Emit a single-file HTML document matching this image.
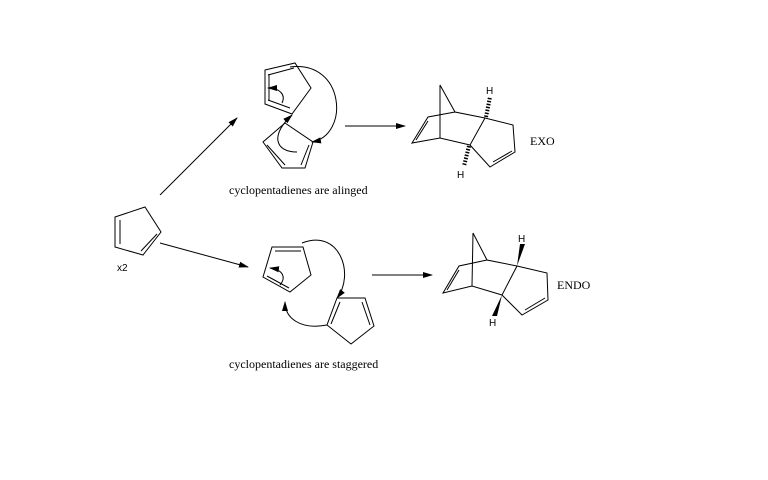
<!DOCTYPE html>
<html><head><style>body{margin:0;background:#fff}svg{display:block}text{font-family:"Liberation Serif",serif;font-size:12px}.s{font-family:"Liberation Sans",sans-serif;font-size:10px}</style></head><body>
<svg width="768" height="480" viewBox="0 0 768 480" xmlns="http://www.w3.org/2000/svg">
<defs><marker id="a" markerWidth="10" markerHeight="8" refX="9" refY="4" orient="auto" markerUnits="userSpaceOnUse"><path d="M0,1 L10,4 L0,7 Z" fill="#000"/></marker></defs>
<g stroke="#000" stroke-width="1" fill="none">
<!-- left cp -->
<path d="M115,217 L145,207 L161,232 L143,255 L115,247 Z"/>
<line x1="120" y1="220" x2="120" y2="244"/><line x1="157" y1="234" x2="141" y2="251"/>
<line x1="160" y1="195" x2="237" y2="118" marker-end="url(#a)"/>
<line x1="160" y1="243" x2="248" y2="267" marker-end="url(#a)"/>
<!-- top complex -->
<path d="M265,70 L295,63 L311,88 L292,114 L265,104 Z"/>
<line x1="268" y1="75" x2="294" y2="68"/><line x1="269" y1="74" x2="269" y2="101"/><line x1="268" y1="100" x2="290" y2="108"/>
<path d="M285,123 L313,142 L305,168 L282,168 L263,142 Z"/>
<line x1="267" y1="145" x2="285" y2="165"/><line x1="309" y1="145" x2="301" y2="165"/>
<path d="M290,67 C345,60 350,135 312,142" marker-end="url(#a)"/>
<path d="M282,103 C286,95 280,88 268,88" marker-end="url(#a)"/>
<path d="M297,152 C275,152 270,135 292,115" marker-end="url(#a)"/>
<line x1="345" y1="126" x2="405" y2="126" marker-end="url(#a)"/>
<!-- EXO -->
<path d="M440,85 L455,112 L485,118 L513,125 L515,152 L490,167 L470,145 L485,118 M470,145 L440,138 L412,143 L428,117 L455,112 M440,85 L440,138"/>
<line x1="493" y1="162" x2="512" y2="151"/><line x1="416" y1="140" x2="428" y2="121"/>
<!-- bottom complex -->
<path d="M272,247 L303,247 L311,275 L290,292 L263,277 Z"/>
<line x1="275" y1="251" x2="301" y2="251"/><line x1="267" y1="276" x2="289" y2="288"/>
<path d="M337,298 L365,298 L374,326 L351,344 L327,325 Z"/>
<line x1="340" y1="302" x2="331" y2="324"/><line x1="362" y1="302" x2="370" y2="325"/>
<path d="M302,243 C340,228 355,275 337,298" marker-end="url(#a)"/>
<path d="M327,325 C300,330 285,318 285,302" marker-end="url(#a)"/>
<path d="M280,285 C286,278 284,270 270,268" marker-end="url(#a)"/>
<line x1="372" y1="275" x2="432" y2="275" marker-end="url(#a)"/>
<!-- ENDO -->
<path d="M473,233 L487,260 L517,266 L547,273 L548,300 L522,315 L502,295 L517,266 M502,295 L472,286 L443,293 L459,266 L487,260 M473,233 L472,286"/>
<line x1="525" y1="310" x2="545" y2="298"/><line x1="447" y1="290" x2="459" y2="270"/>
</g>
<g stroke="#000" stroke-width="1">
<line x1="486" y1="117" x2="490" y2="97" stroke-dasharray="1.5,1.5" stroke-width="4"/>
<line x1="469" y1="146" x2="464" y2="166" stroke-dasharray="1.5,1.5" stroke-width="4"/>
</g>
<path d="M517,266 L520,244 L525,244 Z" fill="#000"/>
<path d="M502,295 L492,316 L497,316 Z" fill="#000"/>
<text class="s" x="486" y="94">H</text><text class="s" x="457" y="178">H</text>
<text class="s" x="518" y="242">H</text><text class="s" x="489" y="326">H</text>
<text x="530" y="145">EXO</text><text x="557" y="289">ENDO</text>
<text class="s" x="117" y="271">x2</text>
<text x="229" y="194">cyclopentadienes are alinged</text>
<text x="229" y="368">cyclopentadienes are staggered</text>
</svg>
</body></html>
